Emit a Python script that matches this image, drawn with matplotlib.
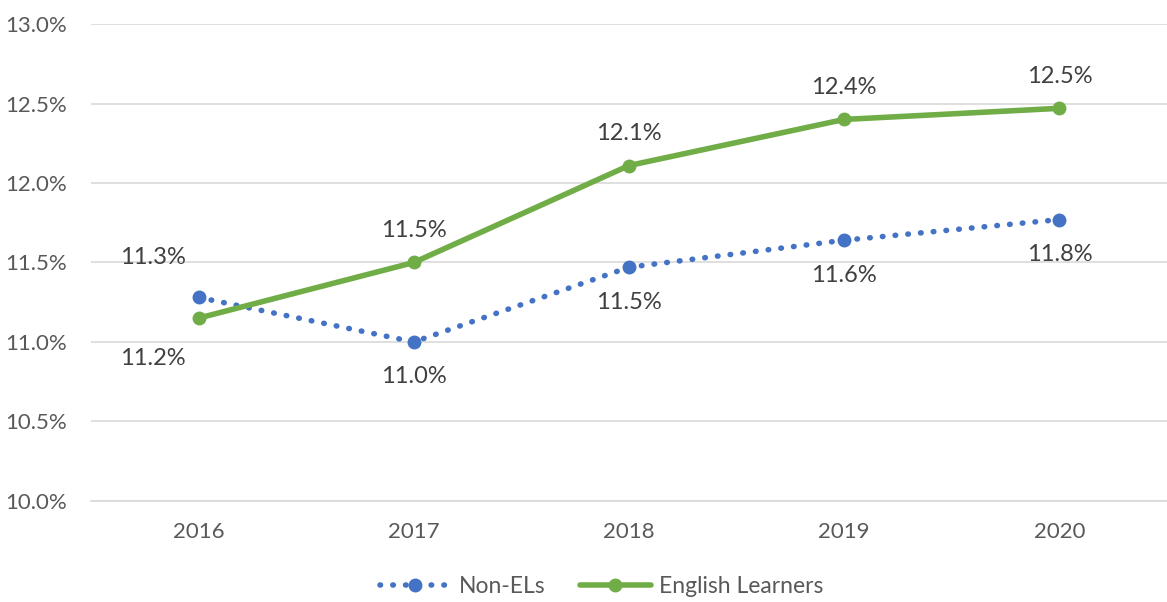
import matplotlib.pyplot as plt
from matplotlib.ticker import FuncFormatter

plt.rcParams['font.family'] = ['Lato', 'DejaVu Sans']

# --------------------------
# Data
# --------------------------
years = ["2016", "2017", "2018", "2019", "2020"]
non_els = [11.28, 11.00, 11.47, 11.64, 11.77]
english_learners = [11.15, 11.50, 12.11, 12.40, 12.47]

blue = "#4472C4"
green = "#70AD47"

# --------------------------
# Chart
# --------------------------
fig = plt.figure(figsize=(11.67, 6.02), dpi=100)
ax = fig.add_axes([0.078, 0.168, 0.922, 0.792])

x = range(len(years))

ax.plot(x, non_els, color=blue, linestyle=(0, (0.1, 2.2)), linewidth=4,
        dash_capstyle="round", marker="o", markersize=9, label="Non-ELs")
ax.plot(x, english_learners, color=green, linewidth=4, solid_capstyle="round",
        marker="o", markersize=9, label="English Learners")

# data labels
lbl = dict(textcoords="offset pixels", ha="center", va="center", fontsize=17, color="#404040")
for i, (a, b) in enumerate(zip(non_els, english_learners)):
    if i == 0:
        ax.annotate(f"{a:.1f}%", (i, a), xytext=(-46, 40), **lbl)
        ax.annotate(f"{b:.1f}%", (i, b), xytext=(-46, -40), **lbl)
    else:
        ax.annotate(f"{a:.1f}%", (i, a), xytext=(0, -35), **lbl)
        ax.annotate(f"{b:.1f}%", (i, b), xytext=(0, 32), **lbl)

ax.set_xlim(-0.5, len(years) - 0.5)
ax.set_ylim(10.0, 13.0)
ax.set_yticks([10.0, 10.5, 11.0, 11.5, 12.0, 12.5, 13.0])
ax.yaxis.set_major_formatter(FuncFormatter(lambda v, p: f"{v:.1f}%"))
ax.set_xticks(list(x))
ax.set_xticklabels(years)

ax.grid(axis="y", color="#D9D9D9", linewidth=1.2)
ax.set_axisbelow(True)
for s in ["top", "right", "left"]:
    ax.spines[s].set_visible(False)
ax.spines["bottom"].set_color("#D9D9D9")
ax.spines["bottom"].set_linewidth(1.2)
ax.tick_params(axis="both", length=0, labelsize=16, labelcolor="#595959")
ax.tick_params(axis="x", pad=15)
ax.tick_params(axis="y", pad=17)

ax.legend(loc="center", bbox_to_anchor=(0.4745, -0.18), ncol=2, frameon=False,
          fontsize=16.5, handlelength=3.1, columnspacing=1.5, handletextpad=0.35,
          labelcolor="#595959")

fig.savefig("out.png", dpi=100)
